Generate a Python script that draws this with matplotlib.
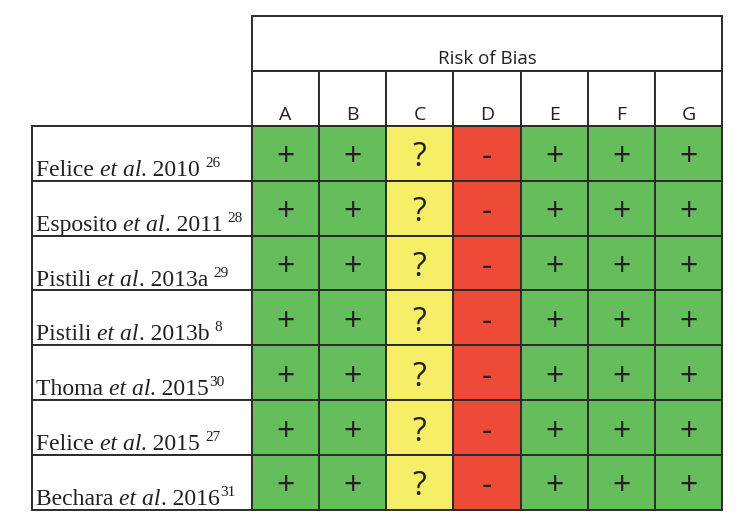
import matplotlib
matplotlib.use("Agg")
import matplotlib.pyplot as plt
from matplotlib.patches import Rectangle
from matplotlib.transforms import offset_copy

# ---- data ----
studies = ["Felice", "Esposito", "Pistili", "Pistili", "Thoma", "Felice", "Bechara"]
years = ["2010", "2011", "2013a", "2013b", "2015", "2015", "2016"]
refs = ["26", "28", "29", "8", "30", "27", "31"]
ref_gap = [True, True, True, True, False, True, False]
domains = ["A", "B", "C", "D", "E", "F", "G"]
header_title = "Risk of Bias"
judgements = [
    ["+", "+", "?", "-", "+", "+", "+"],
    ["+", "+", "?", "-", "+", "+", "+"],
    ["+", "+", "?", "-", "+", "+", "+"],
    ["+", "+", "?", "-", "+", "+", "+"],
    ["+", "+", "?", "-", "+", "+", "+"],
    ["+", "+", "?", "-", "+", "+", "+"],
    ["+", "+", "?", "-", "+", "+", "+"],
]

# ---- style ----
colors = {"+": "#66bd5b", "?": "#f6ee66", "-": "#ee4a38"}
edge = "#2b2b2b"
txt = "#231f20"
lw = 1.4
serif = "Liberation Serif"

W, H = 742, 525
fig = plt.figure(figsize=(W / 100, H / 100), dpi=100)
x0, x1 = 32, 722
lab_w = 220
y_top, y_bot = 16, 510
ncol = len(domains)
nrow = len(studies)
col_w = (x1 - x0 - lab_w) / ncol
lab_units = lab_w / col_w

ax = fig.add_axes([x0 / W, 1 - y_bot / H, (x1 - x0) / W, (y_bot - y_top) / H])
ax.set_xlim(-lab_units, ncol)
ax.set_ylim(nrow, -2)
ax.axis("off")

# header
ax.add_patch(Rectangle((0, -2), ncol, 1, facecolor="white", edgecolor=edge, lw=lw, clip_on=False))
ax.text(ncol / 2, -1.12, header_title, ha="center", va="baseline",
        fontsize=13.5, family="Open Sans", color=txt)
for j, d in enumerate(domains):
    ax.add_patch(Rectangle((j, -1), 1, 1, facecolor="white", edgecolor=edge, lw=lw, clip_on=False))
    ax.text(j + 0.5, -0.11, d, ha="center", va="baseline",
            fontsize=14, family="Open Sans", color=txt)

renderer = fig.canvas.get_renderer()

def put_pieces(x, y, pieces):
    dx = 0.0
    for s, style, size, dy, pre in pieces:
        dx += pre
        t = ax.text(x, y, s, ha="left", va="baseline", fontsize=size, family=serif,
                    style=style, color=txt,
                    transform=offset_copy(ax.transData, fig=fig, x=dx, y=dy, units="dots"))
        bb = t.get_window_extent(renderer=renderer)
        dx += bb.width

# body
for i in range(nrow):
    ax.add_patch(Rectangle((-lab_units, i), lab_units, 1, facecolor="white",
                           edgecolor=edge, lw=lw, clip_on=False))
    pieces = [
        (studies[i] + " ", "normal", 17, 0, 0),
        ("et al", "italic", 17, 0, 0),
        (". " + years[i], "normal", 17, 0, 0),
        (refs[i], "normal", 11, 9, 5 if ref_gap[i] else 0.5),
    ]
    put_pieces(-lab_units + 0.06, i + 0.91, pieces)
    for j, v in enumerate(judgements[i]):
        ax.add_patch(Rectangle((j, i), 1, 1, facecolor=colors[v], edgecolor=edge,
                               lw=lw, clip_on=False))
        ax.text(j + 0.5, i + 0.58, v, ha="center", va="center",
                fontsize=23, family="Open Sans", color=txt)

fig.savefig("out.png", dpi=100)
